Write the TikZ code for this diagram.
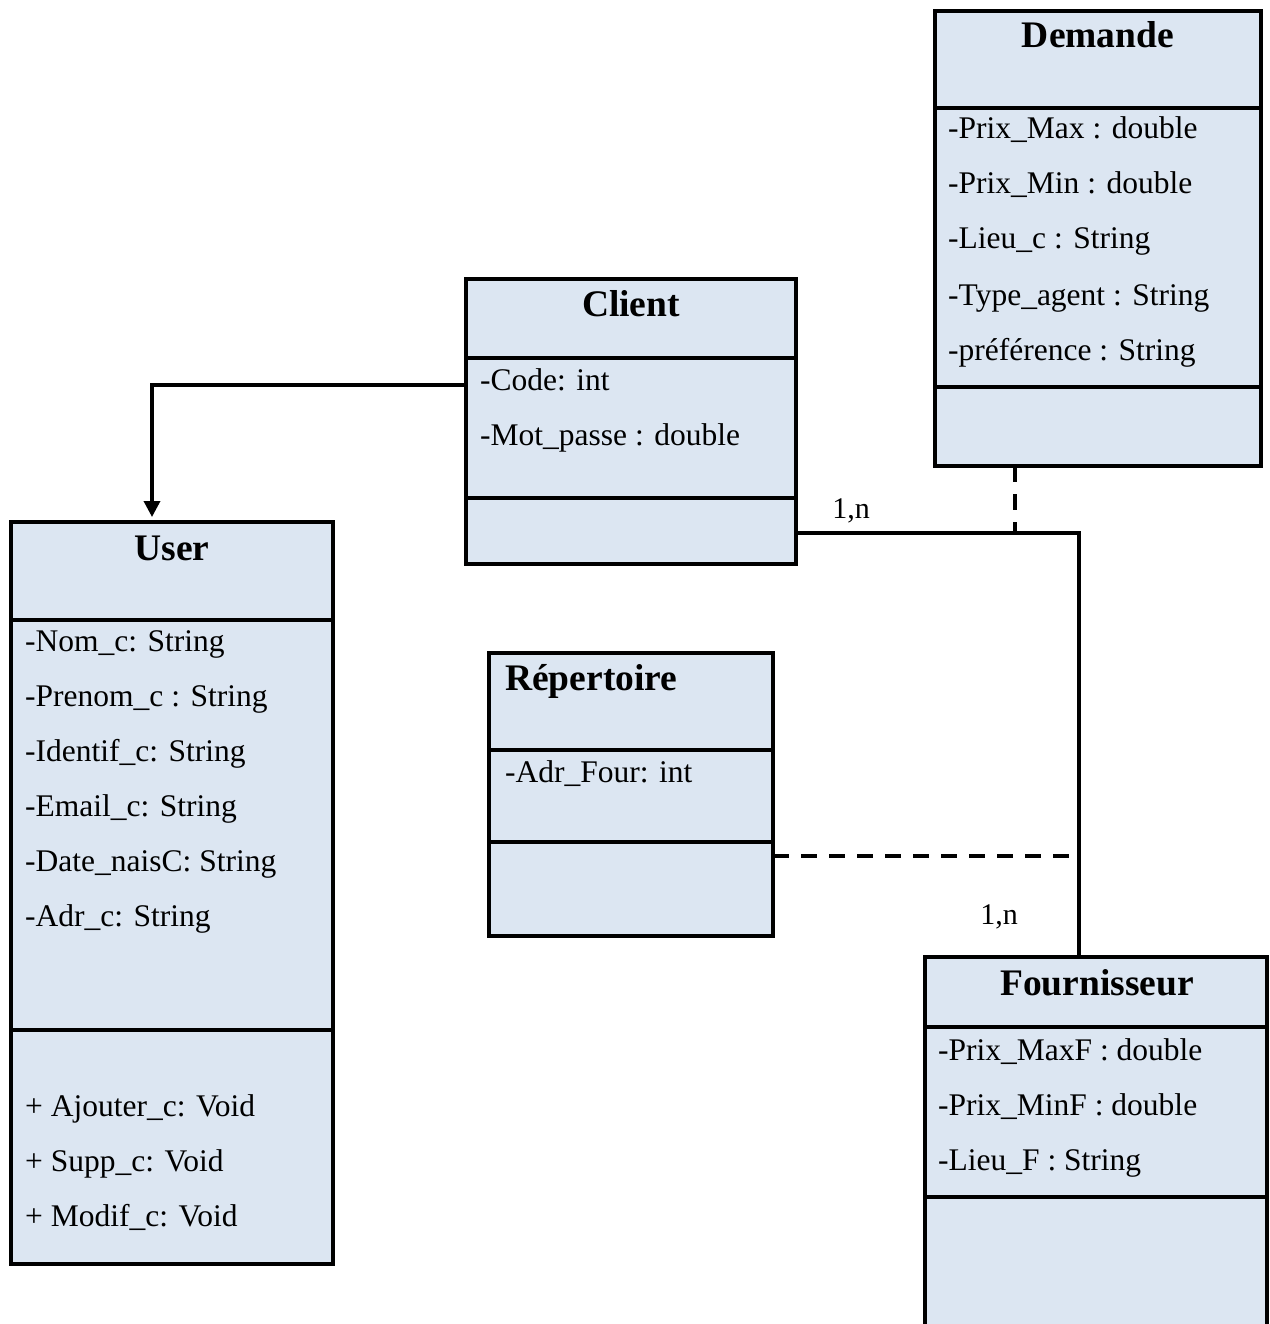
\documentclass[tikz,border=0pt]{standalone}
\usepackage{fontspec}
\setmainfont{Liberation Serif}
\usetikzlibrary{calc,arrows.meta}
\definecolor{clsfill}{RGB}{220,230,242}
\begin{document}
\begin{tikzpicture}[x=1pt,y=-1pt,
  cls/.style={draw=black, fill=clsfill, line width=3.5pt, rectangle, inner sep=0pt, outer sep=0pt, anchor=north west},
  sep/.style={line width=3.5pt},
  title/.style={font=\fontsize{37.5}{42}\selectfont\bfseries, inner sep=0pt, anchor=base},
  attr/.style={font=\fontsize{31.5}{36}\selectfont, inner sep=0pt, anchor=base west},
  mult/.style={font=\fontsize{30}{34}\selectfont, inner sep=0pt},
  assoc/.style={line width=3.5pt},
  linkdash/.style={line width=3.5pt, dash pattern=on 16pt off 12pt}]
\clip (0,0) rectangle (1269,1324);
\fill[white] (0,0) rectangle (1269,1324);

% class boxes
\node[cls, minimum width=326pt, minimum height=455pt] (demande) at (935,11) {};
\node[cls, minimum width=330pt, minimum height=285pt] (client) at (466,279) {};
\node[cls, minimum width=322pt, minimum height=742pt] (user) at (11,522) {};
\node[cls, minimum width=284pt, minimum height=283pt] (rep) at (489,653) {};
\node[cls, minimum width=342pt, minimum height=403pt] (fourn) at (925,957) {};

% compartment separators
\foreach \b/\o in {demande/97, demande/376, client/79, client/219, user/98, user/508, rep/97, rep/189, fourn/70, fourn/240}
  \draw[sep] ($(\b.north west)+(0,\o)$) -- ($(\b.north east)+(0,\o)$);

% Demande
\node[title] (demande-t) at (1098,48) {Demande};
\node[attr] (demande-a1) at (948,139) {-Prix\_Max : double};
\node[attr] (demande-a2) at (948,194) {-Prix\_Min : double};
\node[attr] (demande-a3) at (948,249) {-Lieu\_c : String};
\node[attr] (demande-a4) at (948,305) {-Type\_agent : String};
\node[attr] (demande-a5) at (948,360) {-préférence : String};

% Client
\node[title] (client-t) at (631,316) {Client};
\node[attr] (client-a1) at (480,390) {-Code: int};
\node[attr] (client-a2) at (480,445) {-Mot\_passe : double};

% User
\node[title] (user-t) at (172,560) {User};
\node[attr] (user-a1) at (25,651) {-Nom\_c: String};
\node[attr] (user-a2) at (25,706) {-Prenom\_c : String};
\node[attr] (user-a3) at (25,761) {-Identif\_c: String};
\node[attr] (user-a4) at (25,816) {-Email\_c: String};
\node[attr] (user-a5) at (25,871) {-Date\_naisC: String};
\node[attr] (user-a6) at (25,926) {-Adr\_c: String};
\node[attr] (user-m1) at (25,1116) {+ Ajouter\_c: Void};
\node[attr] (user-m2) at (25,1171) {+ Supp\_c: Void};
\node[attr] (user-m3) at (25,1226) {+ Modif\_c: Void};

% Répertoire
\node[title, anchor=base west] (rep-t) at (505,690) {Répertoire};
\node[attr] (rep-a1) at (505,782) {-Adr\_Four: int};

% Fournisseur
\node[title] (fourn-t) at (1097,995) {Fournisseur};
\node[attr] (fourn-a1) at (938,1060) {-Prix\_MaxF : double};
\node[attr] (fourn-a2) at (938,1115) {-Prix\_MinF : double};
\node[attr] (fourn-a3) at (938,1170) {-Lieu\_F : String};

% generalisation Client -> User
\draw[assoc, -{Triangle[length=16pt,width=16pt]}]
  ($(client.north west)+(0,106)$) -| ($(user.north west)+(141,-5)$);

% association Client -- Fournisseur
\draw[assoc] ($(client.north east)+(0,254)$) -| (fourn.north west -| 1079,0);
\coordinate (assoc-top) at (1015,533);
\coordinate (assoc-side) at (1070,856);

% association classes
\draw[linkdash] ($(demande.south west)+(80,0)$) -- (assoc-top);
\draw[linkdash] ($(rep.north east)+(0,203)$) -- (assoc-side);

% multiplicities
\node[mult] (mult-client) at (851,511) {1,n};
\node[mult] (mult-fourn) at (999,917) {1,n};
\end{tikzpicture}
\end{document}
